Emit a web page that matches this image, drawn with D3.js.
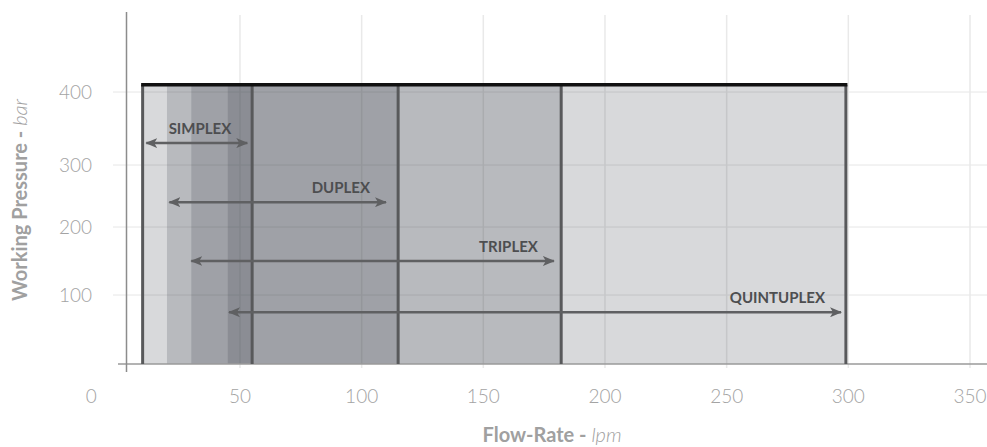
<!DOCTYPE html>
<html>
<head>
    <title>Pump working range</title>
    <script src="https://d3js.org/d3.v7.min.js"></script>
    <style>
        body { margin: 0; background: #ffffff; }
        svg { display: block; font-family: 'Lato', 'Open Sans', sans-serif; }
        .tick-label { fill: #a3a3a3; font-size: 19px; font-weight: 300; }
        .pump-label { fill: #4d4e50; font-size: 15px; font-weight: 700; }
        .axis-title { fill: #a0a0a0; font-size: 20px; font-weight: 700; }
        .axis-title .unit { font-style: italic; font-weight: 300; }
    </style>
</head>
<body>
    <div id="chart"></div>
    <script>
        // pump types and their flow / pressure ranges
        const pumps = ['SIMPLEX', 'DUPLEX', 'TRIPLEX', 'QUINTUPLEX'];
        const flowMin = [10, 20, 30, 45];
        const flowMax = [55, 115, 182, 299];
        const arrowFrom = [11.5, 21, 30, 45.5];
        const arrowTo = [53, 110, 179, 297];
        const arrowPressure = [330, 240, 150, 75];
        const maxPressure = 410;

        const xTicks = [0, 50, 100, 150, 200, 250, 300, 350];
        const yTicks = [100, 200, 300, 400];

        const width = 987, height = 447;

        const svg = d3.select('#chart').append('svg')
            .attr('width', width)
            .attr('height', height);

        const x = d3.scaleLinear().domain([0, 350]).range([118.3, 970]);
        // the grid of the original is not evenly spaced
        const y = d3.scaleLinear().domain([0, 100, 200, 300, 400]).range([364, 295, 227, 165, 92]);

        // grid
        const grid = svg.append('g');
        grid.selectAll('line.h')
            .data(yTicks)
            .enter().append('line')
            .attr('x1', 113).attr('x2', width)
            .attr('y1', d => y(d)).attr('y2', d => y(d))
            .attr('stroke', '#e6e6e6')
            .attr('stroke-width', 1);
        grid.selectAll('line.v')
            .data(xTicks.filter(d => d > 0))
            .enter().append('line')
            .attr('x1', d => x(d)).attr('x2', d => x(d))
            .attr('y1', 15).attr('y2', 368)
            .attr('stroke', '#e9e9e9')
            .attr('stroke-width', 1.5);

        const data = pumps.map((name, i) => ({
            name,
            min: flowMin[i],
            max: flowMax[i],
            from: arrowFrom[i],
            to: arrowTo[i],
            p: arrowPressure[i]
        }));

        // overlapping range bands
        svg.append('g')
            .selectAll('rect')
            .data(data)
            .enter().append('rect')
            .attr('x', d => x(d.min))
            .attr('width', d => x(d.max) - x(d.min))
            .attr('y', y(maxPressure))
            .attr('height', y(0) - y(maxPressure))
            .attr('fill', 'rgb(60,65,75)')
            .attr('fill-opacity', 0.2);

        // axes lines
        svg.append('line')
            .attr('x1', 118).attr('x2', width)
            .attr('y1', y(0)).attr('y2', y(0))
            .attr('stroke', '#9a9a9a').attr('stroke-width', 1.5);
        svg.append('line')
            .attr('x1', 126.5).attr('x2', 126.5)
            .attr('y1', 12).attr('y2', 372)
            .attr('stroke', '#8c8c8c').attr('stroke-width', 1.5);

        // dark boundary lines
        const edges = [flowMin[0]].concat(flowMax);
        svg.append('g')
            .selectAll('line')
            .data(edges)
            .enter().append('line')
            .attr('x1', d => x(d)).attr('x2', d => x(d))
            .attr('y1', y(maxPressure)).attr('y2', y(0))
            .attr('stroke', '#58595b')
            .attr('stroke-width', 3);

        // max pressure line
        svg.append('line')
            .attr('x1', x(d3.min(flowMin)) - 1.5)
            .attr('x2', x(d3.max(flowMax)) + 1.5)
            .attr('y1', y(maxPressure)).attr('y2', y(maxPressure))
            .attr('stroke', '#111111')
            .attr('stroke-width', 3.5);

        // arrows
        svg.append('defs').append('marker')
            .attr('id', 'head')
            .attr('viewBox', '0 0 12 10')
            .attr('refX', 11).attr('refY', 5)
            .attr('markerUnits', 'userSpaceOnUse')
            .attr('markerWidth', 12).attr('markerHeight', 10)
            .attr('orient', 'auto-start-reverse')
            .append('path')
            .attr('d', 'M0,0 L12,5 L0,10 L3,5 Z')
            .attr('fill', '#5f6062');

        const arrows = svg.append('g');
        arrows.selectAll('line')
            .data(data)
            .enter().append('line')
            .attr('x1', d => x(d.from)).attr('x2', d => x(d.to))
            .attr('y1', d => y(d.p)).attr('y2', d => y(d.p))
            .attr('stroke', '#5f6062')
            .attr('stroke-width', 2.5)
            .attr('marker-start', 'url(#head)')
            .attr('marker-end', 'url(#head)');

        arrows.selectAll('text')
            .data(data)
            .enter().append('text')
            .attr('class', 'pump-label')
            .attr('x', d => x(d.to) - 16)
            .attr('y', d => y(d.p) - 9.5)
            .attr('text-anchor', 'end')
            .text(d => d.name);

        // tick labels
        svg.append('g')
            .selectAll('text')
            .data(yTicks)
            .enter().append('text')
            .attr('class', 'tick-label')
            .attr('x', 92)
            .attr('y', d => y(d))
            .attr('dy', '0.36em')
            .attr('text-anchor', 'end')
            .text(d => d);

        svg.append('g')
            .selectAll('text')
            .data(xTicks)
            .enter().append('text')
            .attr('class', 'tick-label')
            .attr('x', d => d === 0 ? x(d) - 27 : x(d))
            .attr('y', 396)
            .attr('dy', '0.36em')
            .attr('text-anchor', 'middle')
            .text(d => d);

        // axis titles
        const xt = svg.append('text')
            .attr('class', 'axis-title')
            .attr('x', 552).attr('y', 442)
            .attr('text-anchor', 'middle');
        xt.append('tspan').text('Flow-Rate - ');
        xt.append('tspan').attr('class', 'unit').text('lpm');

        const yt = svg.append('text')
            .attr('class', 'axis-title')
            .attr('transform', 'translate(27,200) rotate(-90)')
            .attr('text-anchor', 'middle');
        yt.append('tspan').text('Working Pressure - ');
        yt.append('tspan').attr('class', 'unit').text('bar');
    </script>
</body>
</html>
